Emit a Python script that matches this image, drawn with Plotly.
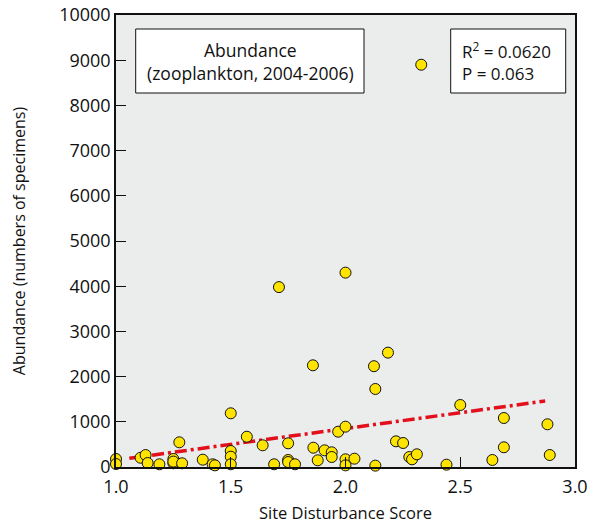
import plotly.graph_objects as go

# Site disturbance score vs abundance
score = [1.0, 1.0, 1.107, 1.129, 1.138, 1.189, 1.25, 1.25, 1.25, 1.276, 1.288,
         1.378, 1.421, 1.431, 1.5, 1.5, 1.5, 1.5, 1.57, 1.639, 1.689, 1.71,
         1.75, 1.75, 1.75, 1.78, 1.858, 1.86, 1.879, 1.909, 1.94, 1.94, 1.968,
         2.0, 2.0, 2.0, 2.0, 2.039, 2.124, 2.13, 2.13, 2.185, 2.22, 2.251,
         2.278, 2.29, 2.311, 2.33, 2.44, 2.5, 2.64, 2.69, 2.69, 2.88, 2.89]
abundance = [177, 66, 205, 265, 88, 60, 177, 82, 120, 546, 82,
             162, 60, 37, 1188, 354, 228, 60, 670, 480, 60, 3980,
             524, 155, 110, 60, 2250, 427, 148, 369, 325, 221, 781,
             4300, 892, 170, 37, 184, 2230, 1726, 30, 2530, 568, 531,
             221, 170, 281, 8900, 51, 1372, 155, 1084, 436, 945, 265]

trend_x = [1.058, 2.87]
trend_y = [192, 1460]

x_ticks = [1.0, 1.5, 2.0, 2.5, 3.0]
y_ticks = [0, 1000, 2000, 3000, 4000, 5000, 6000, 7000, 8000, 9000, 10000]

FONT = "Open Sans"
L, R, T, B = 116, 17, 15, 63
PW, PH = 592 - L - R, 530 - T - B


def px(xp):
    return (xp - L) / PW


def py(yp):
    return (530 - B - yp) / PH


fig = go.Figure()
fig.add_trace(go.Scatter(
    x=trend_x, y=trend_y, mode="lines",
    line=dict(color="#e3101c", width=3.5, dash="12px,4px,3px,4px"),
    hoverinfo="skip", showlegend=False))
fig.add_trace(go.Scatter(
    x=score, y=abundance, mode="markers",
    marker=dict(size=11, color="#ffe400", line=dict(color="#111111", width=1)),
    cliponaxis=False, showlegend=False))

fig.update_layout(
    width=592, height=530,
    margin=dict(l=L, r=R, t=T, b=B, autoexpand=False),
    paper_bgcolor="white", plot_bgcolor="#ebecec",
    font=dict(family=FONT, color="#111111"),
    showlegend=False,
)
fig.update_xaxes(
    range=[1.0, 3.0], tickvals=x_ticks, ticktext=[f"{v:.1f}" for v in x_ticks],
    ticks="inside", ticklen=10, tickcolor="#111111", tickwidth=1,
    showgrid=False, zeroline=False, showline=True, linecolor="#111111", linewidth=1.5,
    mirror=True, automargin=False, tickfont=dict(size=18, family=FONT),
    ticklabelstandoff=3,
    title=dict(text="Site Disturbance Score", font=dict(size=16.5, family=FONT), standoff=10),
)
fig.update_yaxes(
    range=[0, 10000], tickvals=y_ticks, ticktext=[str(v) for v in y_ticks],
    ticks="inside", ticklen=10, tickcolor="#111111", tickwidth=1,
    showgrid=False, zeroline=False, showline=True, linecolor="#111111", linewidth=1.5,
    mirror=True, automargin=False, tickfont=dict(size=18, family=FONT),
    title=dict(text="Abundance (numbers of specimens)", font=dict(size=16, family=FONT), standoff=30),
)

fig.add_shape(type="rect", xref="paper", yref="paper",
              x0=px(135.7), x1=px(364), y0=py(93), y1=py(29),
              fillcolor="white", line=dict(color="#111111", width=1))
fig.add_shape(type="rect", xref="paper", yref="paper",
              x0=px(450.7), x1=px(565.7), y0=py(93), y1=py(29),
              fillcolor="white", line=dict(color="#111111", width=1))
fig.add_annotation(xref="paper", yref="paper", x=px(250), y=py(61),
                   xanchor="center", yanchor="middle",
                   text="Abundance<br>(zooplankton, 2004-2006)", showarrow=False,
                   align="center", font=dict(size=17.5, family=FONT, color="#111111"))
fig.add_annotation(xref="paper", yref="paper", x=px(460), y=py(61),
                   xanchor="left", yanchor="middle",
                   text="R<sup>2</sup> = 0.0620<br>P = 0.063", showarrow=False,
                   align="left", font=dict(size=17, family=FONT, color="#111111"))

fig.write_html("out.html")
